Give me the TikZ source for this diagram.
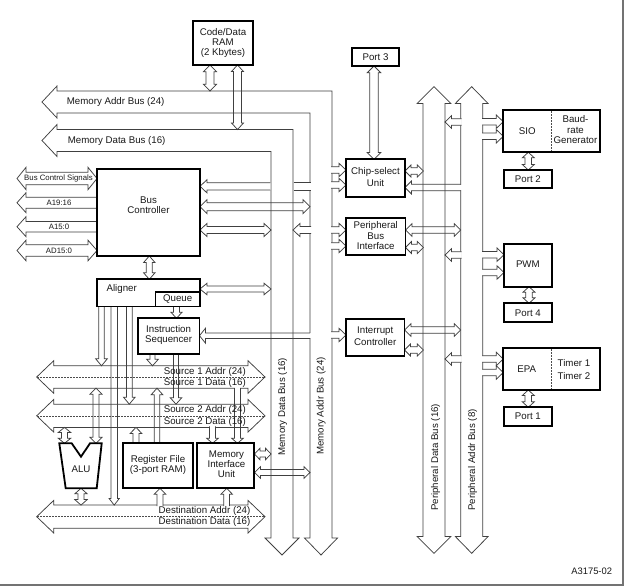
\documentclass[tikz,border=0pt]{standalone}
\usepackage{fontspec}
\setmainfont{Liberation Sans}
\tikzset{
  pl/.style={draw=black!75, line width=0.75pt, line join=miter},
  bx/.style={draw=black, line width=1.8pt, fill=white, inner sep=0pt},
  tx/.style={font=\fontsize{9.7}{10.4}\selectfont, inner sep=0pt, align=center, text=black!90},
  sm/.style={font=\fontsize{7.8}{9}\selectfont, inner sep=0pt, text=black!90},
  dsh/.style={draw=black!70, line width=0.5pt, dash pattern=on 1.6pt off 1.4pt},
}
% horizontal hollow arrow: [fill] x1 x2 y halfshaft halfhead headlen mode(0 none,1 left,2 right,3 both)
\newcommand\HA[8][white]{%
 \ifcase#8\relax
   \path[fill=#1] (#2,#4-#5) rectangle (#3,#4+#5);
   \draw[pl] (#2,#4-#5) -- (#3,#4-#5) (#2,#4+#5) -- (#3,#4+#5);
 \or
   \path[fill=#1] (#2,#4) -- (#2+#7,#4-#6) -- (#2+#7,#4-#5) -- (#3,#4-#5) -- (#3,#4+#5) -- (#2+#7,#4+#5) -- (#2+#7,#4+#6) -- cycle;
   \draw[pl] (#3,#4-#5) -- (#2+#7,#4-#5) -- (#2+#7,#4-#6) -- (#2,#4) -- (#2+#7,#4+#6) -- (#2+#7,#4+#5) -- (#3,#4+#5);
 \or
   \path[fill=#1] (#2,#4-#5) -- (#3-#7,#4-#5) -- (#3-#7,#4-#6) -- (#3,#4) -- (#3-#7,#4+#6) -- (#3-#7,#4+#5) -- (#2,#4+#5) -- cycle;
   \draw[pl] (#2,#4-#5) -- (#3-#7,#4-#5) -- (#3-#7,#4-#6) -- (#3,#4) -- (#3-#7,#4+#6) -- (#3-#7,#4+#5) -- (#2,#4+#5);
 \or
   \path[pl,fill=#1] (#2,#4) -- (#2+#7,#4-#6) -- (#2+#7,#4-#5) -- (#3-#7,#4-#5) -- (#3-#7,#4-#6) -- (#3,#4) -- (#3-#7,#4+#6) -- (#3-#7,#4+#5) -- (#2+#7,#4+#5) -- (#2+#7,#4+#6) -- cycle;
 \fi}
% vertical hollow arrow: [fill] x y1 y2 halfshaft halfhead headlen mode(1 top,2 bottom,3 both)
\newcommand\VA[8][white]{%
 \ifcase#8\relax
   \path[fill=#1] (#2-#5,#3) rectangle (#2+#5,#4);
   \draw[pl] (#2-#5,#3) -- (#2-#5,#4) (#2+#5,#3) -- (#2+#5,#4);
 \or
   \path[fill=#1] (#2,#3) -- (#2+#6,#3+#7) -- (#2+#5,#3+#7) -- (#2+#5,#4) -- (#2-#5,#4) -- (#2-#5,#3+#7) -- (#2-#6,#3+#7) -- cycle;
   \draw[pl] (#2+#5,#4) -- (#2+#5,#3+#7) -- (#2+#6,#3+#7) -- (#2,#3) -- (#2-#6,#3+#7) -- (#2-#5,#3+#7) -- (#2-#5,#4);
 \or
   \path[fill=#1] (#2-#5,#3) -- (#2-#5,#4-#7) -- (#2-#6,#4-#7) -- (#2,#4) -- (#2+#6,#4-#7) -- (#2+#5,#4-#7) -- (#2+#5,#3) -- cycle;
   \draw[pl] (#2-#5,#3) -- (#2-#5,#4-#7) -- (#2-#6,#4-#7) -- (#2,#4) -- (#2+#6,#4-#7) -- (#2+#5,#4-#7) -- (#2+#5,#3);
 \or
   \path[pl,fill=#1] (#2,#3) -- (#2+#6,#3+#7) -- (#2+#5,#3+#7) -- (#2+#5,#4-#7) -- (#2+#6,#4-#7) -- (#2,#4) -- (#2-#6,#4-#7) -- (#2-#5,#4-#7) -- (#2-#5,#3+#7) -- (#2-#6,#3+#7) -- cycle;
 \fi}
% white cover over a bus edge where a pipe opens into it
\newcommand\CovV[3]{\fill[white] (#1-0.9,#2-#3+0.45) rectangle (#1+0.9,#2+#3-0.45);}
\newcommand\CovH[3]{\fill[white] (#1-#3+0.45,#2-0.9) rectangle (#1+#3-0.45,#2+0.9);}
\begin{document}
\begin{tikzpicture}[x=1pt,y=-1pt]
\useasboundingbox (0,0) rectangle (624,586);
\fill[white] (0,0) rectangle (624,586);
\draw[black!55, line width=2pt] (0,584.8) -- (622.8,584.8) -- (622.8,0);

% ---------- main buses ----------
\filldraw[pl,fill=white] (42,102) -- (57,86) -- (57,91) -- (332,91) -- (332,538) -- (337.5,538) -- (321,555) -- (304.5,538) -- (310,538) -- (310,113) -- (57,113) -- (57,118) -- cycle;
\filldraw[pl,fill=white] (42,140.5) -- (57,124.5) -- (57,129.5) -- (293,129.5) -- (293,538) -- (299,538) -- (282,555) -- (265,538) -- (271,538) -- (271,151.5) -- (57,151.5) -- (57,156.5) -- cycle;
\HA{36.7}{265}{377}{11.2}{16.3}{17}{3}
\draw[dsh] (37,377) -- (265,377);
\HA{36.7}{265}{415.8}{11.6}{16.3}{17}{3}
\draw[dsh] (37,415.8) -- (265,415.8);
\HA{36.7}{265}{516.7}{11.6}{16.3}{17}{3}
\draw[dsh] (37,516.7) -- (265,516.7);
\VA{434}{86.7}{553.3}{10.9}{16.7}{16.7}{3}
\VA{471.7}{86.7}{553.3}{11}{16.3}{16.7}{3}

% ---------- bus controller external signals ----------
\HA{17}{97}{178.5}{6.2}{11.2}{9}{3}
\HA{17}{97.5}{202.7}{5.5}{10}{9}{1}
\HA{17}{97.5}{226.7}{5.3}{10}{9}{1}
\HA{17}{97}{250.5}{5.8}{10.3}{9}{3}

% ---------- core connections ----------
\VA{210}{65}{91}{4}{6.5}{6.7}{3}
\VA[none]{237.5}{65}{129.5}{4}{6}{6.5}{3}
\VA{149.3}{256}{279.3}{3}{5.7}{6.5}{3}
\HA{200}{271}{289}{2.9}{5.8}{7}{3}
\VA{176.5}{306.5}{318.3}{3}{5.5}{6}{2}
\HA{200}{270.4}{186.3}{3.6}{6.6}{7}{1}
\HA{293.6}{311}{186.3}{3.6}{0}{0}{0}
\HA[none]{200}{310}{206.7}{4}{7}{7}{3}
\HA{200}{271}{230}{3.6}{6.6}{7}{3}
\HA{293}{311}{230}{3.6}{6.6}{7}{1}
\CovV{310}{335.7}{2.8}
\HA[none]{199.5}{310}{335.7}{2.8}{7.5}{6}{1}
\HA{254.5}{271}{454}{3}{5.8}{5.5}{3}
\HA[none]{254.5}{310}{472.5}{3}{5.8}{6}{3}

% lower core
\VA{101.5}{306.5}{365.8}{2.8}{5.8}{7}{2}
\VA[none]{114.2}{306.5}{505.1}{3.2}{5}{6.5}{2}
\VA[none]{129.3}{306.5}{404.2}{2.9}{5.8}{7}{2}
\VA{152.5}{354}{365.8}{2.5}{5.8}{6.5}{2}
\VA[none]{176}{354}{404.2}{2.5}{5.8}{6.5}{2}
\VA[none]{157}{388.2}{443.3}{2.7}{5.8}{6.5}{1}
\VA{136}{427.4}{443.3}{2.9}{5.8}{6}{1}
\VA{160}{488.3}{506.1}{2.9}{5.8}{6}{1}
\VA{64.5}{427.4}{443.3}{3}{6.2}{5}{3}
\VA[none]{96}{388.2}{443.3}{3}{6}{6}{3}
\VA{81}{488.3}{505.1}{3}{6.2}{5.5}{3}
\VA{212.5}{426.4}{443.3}{2.9}{5.8}{5}{2}
\CovH{237.5}{388.2}{2.9}
\VA[none]{237.5}{388.2}{443.3}{2.9}{5.8}{5}{2}
\VA{226.7}{488.3}{506.1}{2.9}{5.8}{6}{1}

% ---------- peripheral side ----------
\VA{374}{66}{159.3}{4.2}{6.7}{6.7}{3}
\HA{331}{346}{170}{3.3}{6.7}{7}{2}
\HA{331}{346}{185}{3.3}{6.7}{7}{2}
\HA{331}{346}{230}{3.3}{6.7}{7}{2}
\HA{331}{346}{246}{3.3}{6.7}{7}{2}
\HA{331}{346}{335}{3.3}{6.7}{7}{2}
\HA{405}{423.3}{171}{3.3}{6}{6}{3}
\CovV{460.7}{187.5}{3.3}
\HA[none]{405}{460.7}{187.5}{3.3}{6.5}{6.5}{1}
\HA[none]{405.5}{460.7}{230}{3.3}{6.3}{6.5}{3}
\HA{405.5}{423.3}{247.5}{3.3}{6}{6}{3}
\HA[none]{404.5}{460.7}{330}{3.3}{6.3}{6.5}{3}
\HA{404.5}{423.3}{350}{3.3}{6}{6}{3}
\HA{445}{461.5}{122}{3.3}{6.3}{6.5}{1}
\HA{482}{503.3}{121.7}{3.3}{6.7}{7}{2}
\HA{482}{503.3}{136.3}{3.3}{6.7}{7}{2}
\HA{445}{461.5}{255}{3.3}{6.3}{6.5}{1}
\HA{482}{504}{254.7}{3.3}{6.7}{7}{2}
\HA{482}{504}{272.5}{3.3}{6.7}{7}{2}
\HA{445}{461.5}{359}{3.3}{6.3}{6.5}{1}
\HA{482}{503.3}{359}{3.3}{6.7}{7}{2}
\HA{482}{503.3}{372.5}{3.3}{6.7}{7}{2}
\VA{528.3}{152.3}{170}{3.3}{6}{5.5}{3}
\VA{529}{286.7}{303.3}{3.3}{6}{5.5}{3}
\VA{528.3}{390}{407.3}{3.3}{6}{5.5}{3}

% ---------- boxes ----------
\node[bx, minimum width=60pt, minimum height=44pt] (ram) at (223,43) {};
\node[bx, minimum width=103pt, minimum height=86.7pt] (bc) at (148.5,212.7) {};
\node[bx, minimum width=103.3pt, minimum height=27.2pt] (al) at (148.35,292.9) {};
\node[bx, minimum width=44.5pt, minimum height=14.8pt] (qu) at (177.75,299.1) {};
\node[bx, minimum width=61.8pt, minimum height=35.7pt] (is) at (168.6,336.15) {};
\node[bx, minimum width=69.4pt, minimum height=45pt] (rf) at (158,465.8) {};
\node[bx, minimum width=57pt, minimum height=45pt] (miu) at (225.8,465.8) {};
\node[bx, minimum width=59pt, minimum height=37.4pt] (cs) at (375.5,178) {};
\node[bx, minimum width=59.5pt, minimum height=36.7pt] (pbi) at (375.75,236.65) {};
\node[bx, minimum width=58.5pt, minimum height=37pt] (ic) at (375.25,337.5) {};
\node[bx, minimum width=47.6pt, minimum height=18.3pt] (p3) at (375.5,56.85) {};
\node[bx, minimum width=96.7pt, minimum height=42.3pt] (sio) at (551.65,131.15) {};
\node[bx, minimum width=47.7pt, minimum height=18.3pt] (p2) at (527.85,179.15) {};
\node[bx, minimum width=47.7pt, minimum height=42.7pt] (pwm) at (527.85,265.35) {};
\node[bx, minimum width=47.7pt, minimum height=19pt] (p4) at (527.85,312.8) {};
\node[bx, minimum width=96.7pt, minimum height=41.7pt] (epa) at (551.65,369.15) {};
\node[bx, minimum width=47.7pt, minimum height=18.7pt] (p1) at (527.85,416.65) {};
\draw[dsh, line width=0.7pt] (551.7,111) -- (551.7,151.3);
\draw[dsh, line width=0.7pt] (551.7,349.3) -- (551.7,389);
\filldraw[draw=black, line width=1.8pt, fill=white, line join=miter] (59.3,443.3) -- (71.7,443.3) -- (81,456.7) -- (90,443.3) -- (101.7,443.3) -- (96.7,488.3) -- (65.7,488.3) -- cycle;
\coordinate (alu) at (81,466);

% ---------- texts ----------
\node[tx, font=\fontsize{9.7}{10}\selectfont] (ramT) at (223,42.5) {Code/Data\\RAM\\(2 Kbytes)};
\node[tx, font=\fontsize{9.7}{10}\selectfont] (bcT) at (148.5,205) {Bus\\Controller};
\node[tx] (alT) at (121.7,289.3) {Aligner};
\node[tx] (quT) at (177.7,299) {Queue};
\node[tx, font=\fontsize{9.7}{10}\selectfont] (isT) at (168.6,335.2) {Instruction\\Sequencer};
\node[tx] (aluT) at (81,469.3) {ALU};
\node[tx, font=\fontsize{9.7}{9.6}\selectfont] (rfT) at (158,464.7) {Register File\\(3-port RAM)};
\node[tx, font=\fontsize{9.7}{10}\selectfont] (miuT) at (226.5,464.3) {Memory\\Interface\\Unit};
\node[tx, font=\fontsize{9.7}{11.7}\selectfont] (csT) at (375.5,177) {Chip-select\\Unit};
\node[tx, font=\fontsize{9.7}{10.5}\selectfont] (pbiT) at (375.75,235.6) {Peripheral\\Bus\\Interface};
\node[tx, font=\fontsize{9.7}{11.7}\selectfont] (icT) at (375.25,336) {Interrupt\\Controller};
\node[tx] (p3T) at (375.5,56.85) {Port 3};
\node[tx] (sioT) at (527.3,131) {SIO};
\node[tx, font=\fontsize{9.7}{10.5}\selectfont] (baudT) at (575.5,129.7) {Baud-\\rate\\Generator};
\node[tx] (p2T) at (527.85,179.15) {Port 2};
\node[tx] (pwmT) at (527.85,264) {PWM};
\node[tx] (p4T) at (527.85,312.8) {Port 4};
\node[tx] (epaT) at (526.7,369.3) {EPA};
\node[tx, font=\fontsize{9.7}{12.7}\selectfont] (tmT) at (574,369.7) {Timer 1\\Timer 2};
\node[tx] (p1T) at (527.85,416.65) {Port 1};

\node[tx, anchor=west] (mabT) at (66.7,102) {Memory Addr Bus (24)};
\node[tx, anchor=west] (mdbT) at (67.7,140.5) {Memory Data Bus (16)};
\node[tx, rotate=90] (mdbV) at (282.5,406.7) {Memory Data Bus (16)};
\node[tx, rotate=90] (mabV) at (321,406) {Memory Addr Bus (24)};
\node[tx, rotate=90] (pdbV) at (435.5,457.3) {Peripheral Data Bus (16)};
\node[tx, rotate=90] (pabV) at (472.7,460) {Peripheral Addr Bus (8)};

\node[tx, anchor=east] (s1a) at (246,371.7) {Source 1 Addr (24)};
\node[tx, anchor=east] (s1d) at (246,382.7) {Source 1 Data (16)};
\node[tx, anchor=east] (s2a) at (246,410) {Source 2 Addr (24)};
\node[tx, anchor=east] (s2d) at (246,421.7) {Source 2 Data (16)};
\node[tx, anchor=east] (dsa) at (250.5,510.7) {Destination Addr (24)};
\node[tx, anchor=east] (dsd) at (250.5,522.3) {Destination Data (16)};

\node[sm] (bcs) at (58.5,178.3) {Bus Control Signals};
\node[sm] (a1916) at (59,202.7) {A19:16};
\node[sm] (a150) at (59,226.7) {A15:0};
\node[sm] (ad150) at (59,250.5) {AD15:0};
\node[tx, font=\fontsize{9.4}{10}\selectfont] (fig) at (591.7,571.7) {A3175-02};
\end{tikzpicture}
\end{document}
